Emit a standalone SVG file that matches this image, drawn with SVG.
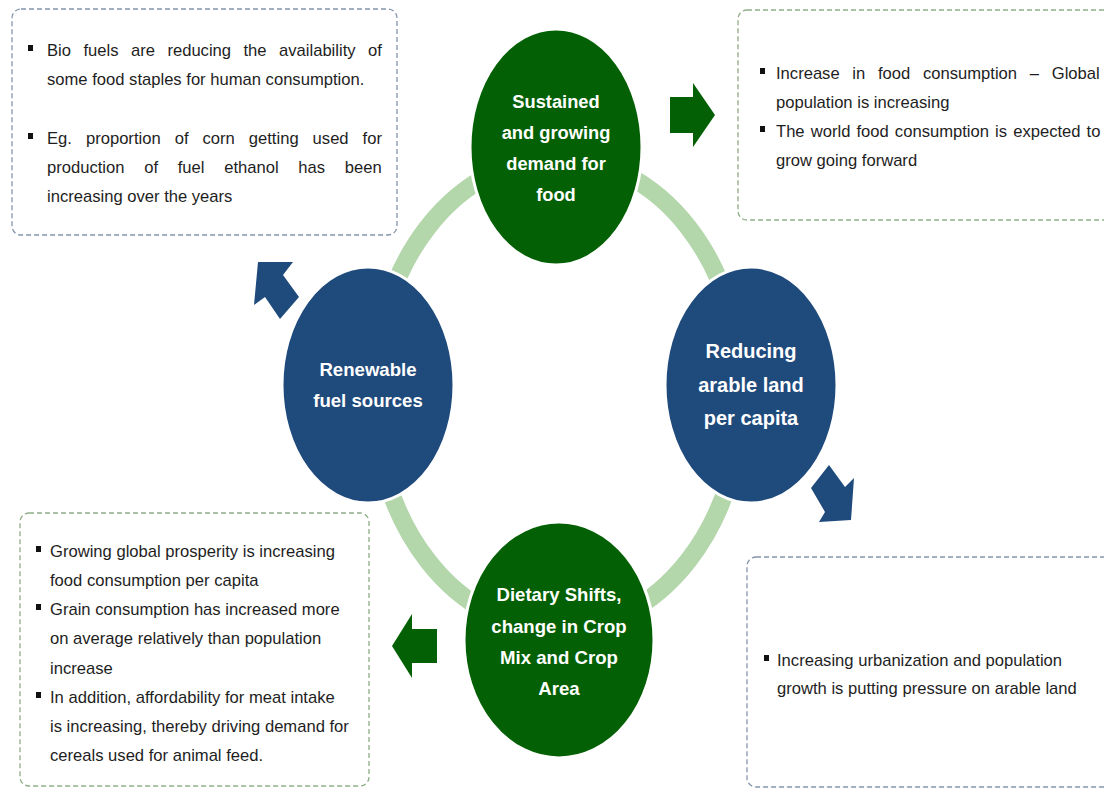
<svg xmlns="http://www.w3.org/2000/svg" width="1104" height="789" viewBox="0 0 1104 789">
<style>
.box{fill:none;stroke-width:1.3;stroke-dasharray:5 3}
.bb{stroke:#8494ad}
.bg{stroke:#8fae88}
.t{font-family:"Liberation Sans",Arial,sans-serif;font-size:16.6px;fill:#1e1e1e}
.c{font-family:"Liberation Sans",Arial,sans-serif;font-weight:bold;fill:#fff;text-anchor:middle}
.g{fill:#046004}
.b{fill:#1f4a7c}
.el{stroke:#fff;stroke-width:3}
.bul{fill:#111}
</style>
<rect width="1104" height="789" fill="#fff"/>
<g id="connectors">
<ellipse cx="558" cy="394" rx="184" ry="236" fill="none" stroke="#b3d6ab" stroke-width="18"/>
<polygon class="g" points="670,97 693,97 693,83 715,115 693,147 693,133 670,133"/>
<polygon class="g" points="437,629 412,629 412,614 392,646 412,678 412,663 437,663"/>
<polygon class="b" points="258,262 293,262 283,275 299,297 280,319 265,297 254,305"/>
<polygon class="b" points="829,465 845,487 854,478 851,520 819,522 825,512 811,488"/>
</g>
<g id="node-food">
<ellipse class="el g" cx="556" cy="147" rx="86" ry="118"/>
<text class="c" font-size="18.3"><tspan x="556" y="108">Sustained</tspan><tspan x="556" y="139">and growing</tspan><tspan x="556" y="170">demand for</tspan><tspan x="556" y="201">food</tspan></text>
</g>
<g id="node-fuel">
<ellipse class="el b" cx="368" cy="385" rx="86" ry="118"/>
<text class="c" font-size="18.6"><tspan x="368" y="376">Renewable</tspan><tspan x="368" y="407">fuel sources</tspan></text>
</g>
<g id="node-land">
<ellipse class="el b" cx="751" cy="385" rx="86" ry="118"/>
<text class="c" font-size="20"><tspan x="751" y="358">Reducing</tspan><tspan x="751" y="392">arable land</tspan><tspan x="751" y="425">per capita</tspan></text>
</g>
<g id="node-diet">
<ellipse class="el g" cx="559" cy="640" rx="95" ry="118"/>
<text class="c" font-size="18.6"><tspan x="559" y="601">Dietary Shifts,</tspan><tspan x="559" y="633">change in Crop</tspan><tspan x="559" y="664">Mix and Crop</tspan><tspan x="559" y="695">Area</tspan></text>
</g>
<g id="box-biofuels">
<rect class="box bb" x="12" y="9" width="385" height="226" rx="9"/>
<rect class="bul" x="28" y="45" width="5" height="6"/>
<rect class="bul" x="28" y="133" width="5" height="6"/>
<text class="t"><tspan x="47" y="56" word-spacing="7.85">Bio fuels are reducing the availability of</tspan><tspan x="47" y="85">some food staples for human consumption.</tspan><tspan x="47" y="144" word-spacing="9.4">Eg. proportion of corn getting used for</tspan><tspan x="47" y="173" word-spacing="15.1">production of fuel ethanol has been</tspan><tspan x="47" y="202">increasing over the years</tspan></text>
</g>
<g id="box-consumption">
<rect class="box bg" x="738" y="10" width="400" height="210" rx="9"/>
<rect class="bul" x="760" y="68" width="5" height="6"/>
<rect class="bul" x="760" y="126" width="5" height="6"/>
<text class="t"><tspan x="776" y="79" word-spacing="8.1">Increase in food consumption – Global</tspan><tspan x="776" y="108">population is increasing</tspan><tspan x="776" y="137" word-spacing="1.5">The world food consumption is expected to</tspan><tspan x="776" y="166">grow going forward</tspan></text>
</g>
<g id="box-prosperity">
<rect class="box bg" x="20" y="513" width="349" height="273" rx="9"/>
<rect class="bul" x="36" y="546" width="5" height="6"/>
<rect class="bul" x="36" y="604" width="5" height="6"/>
<rect class="bul" x="36" y="692" width="5" height="6"/>
<text class="t"><tspan x="50" y="557">Growing global prosperity is increasing</tspan><tspan x="50" y="586">food consumption per capita</tspan><tspan x="50" y="615">Grain consumption has increased more</tspan><tspan x="50" y="644">on average relatively than population</tspan><tspan x="50" y="674">increase</tspan><tspan x="50" y="703">In addition, affordability for meat intake</tspan><tspan x="50" y="732">is increasing, thereby driving demand for</tspan><tspan x="50" y="761">cereals used for animal feed.</tspan></text>
</g>
<g id="box-urbanization">
<rect class="box bb" x="747" y="557" width="400" height="230" rx="9"/>
<rect class="bul" x="764" y="655" width="5" height="6"/>
<text class="t"><tspan x="777" y="666">Increasing urbanization and population</tspan><tspan x="777" y="694">growth is putting pressure on arable land</tspan></text>
</g>
</svg>
